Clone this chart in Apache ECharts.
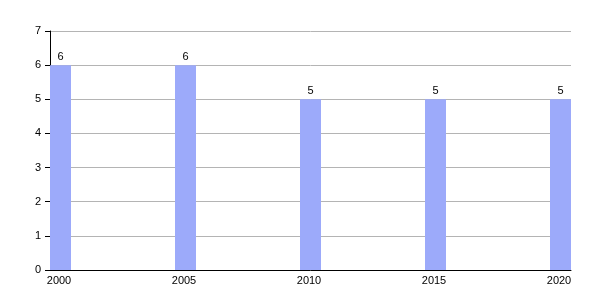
<!DOCTYPE html>
<html><head><meta charset="utf-8">
<script src="https://cdn.jsdelivr.net/npm/echarts@6/dist/echarts.min.js"></script>
<style>html,body{margin:0;padding:0;background:#fff}#c{width:600px;height:300px}</style>
</head><body><div id="c"></div>
<script>
const years = [2000, 2005, 2010, 2015, 2020];
const values = [6, 6, 5, 5, 5];
const xTickLabels = [2000, 2005, 2010, 2015, 2020];
const yTicks = [0,1,2,3,4,5,6,7];

const chart = echarts.init(document.getElementById('c'), null, {renderer:'canvas'});
chart.setOption({
  animation: false,
  grid: {left: 50, right: 29, top: 31, bottom: 30},
  xAxis: {
    type: 'value',
    min: 1999.58, max: 2020.42,
    axisLine: {show: true, lineStyle: {color: '#000', width: 1}},
    axisTick: {show: false},
    axisLabel: {customValues: xTickLabels, formatter: v => String(Math.round(v)), color: '#000', fontFamily: 'Liberation Sans', fontSize: 11, margin: 5, padding:[0,3,0,0]},
    splitLine: {show: false}
  },
  yAxis: {
    type: 'value',
    min: 0, max: 7, interval: 1,
    axisLine: {show: true, lineStyle: {color: '#000', width: 1}},
    axisTick: {show: true, length: 5, lineStyle: {color: '#000'}},
    axisLabel: {color: '#000', fontFamily: 'Liberation Sans', fontSize: 11, margin: 9},
    splitLine: {show: true, lineStyle: {color: '#b4b4b4', width: 1}}
  },
  series: [{
    type: 'bar',
    data: years.map((y, i) => [y, values[i]]),
    barWidth: 21,
    itemStyle: {color: '#9caafa'},
    label: {show: true, position: 'top', distance: 3, color: '#000', fontFamily: 'Liberation Sans', fontSize: 11}
  }]
});
</script></body></html>
